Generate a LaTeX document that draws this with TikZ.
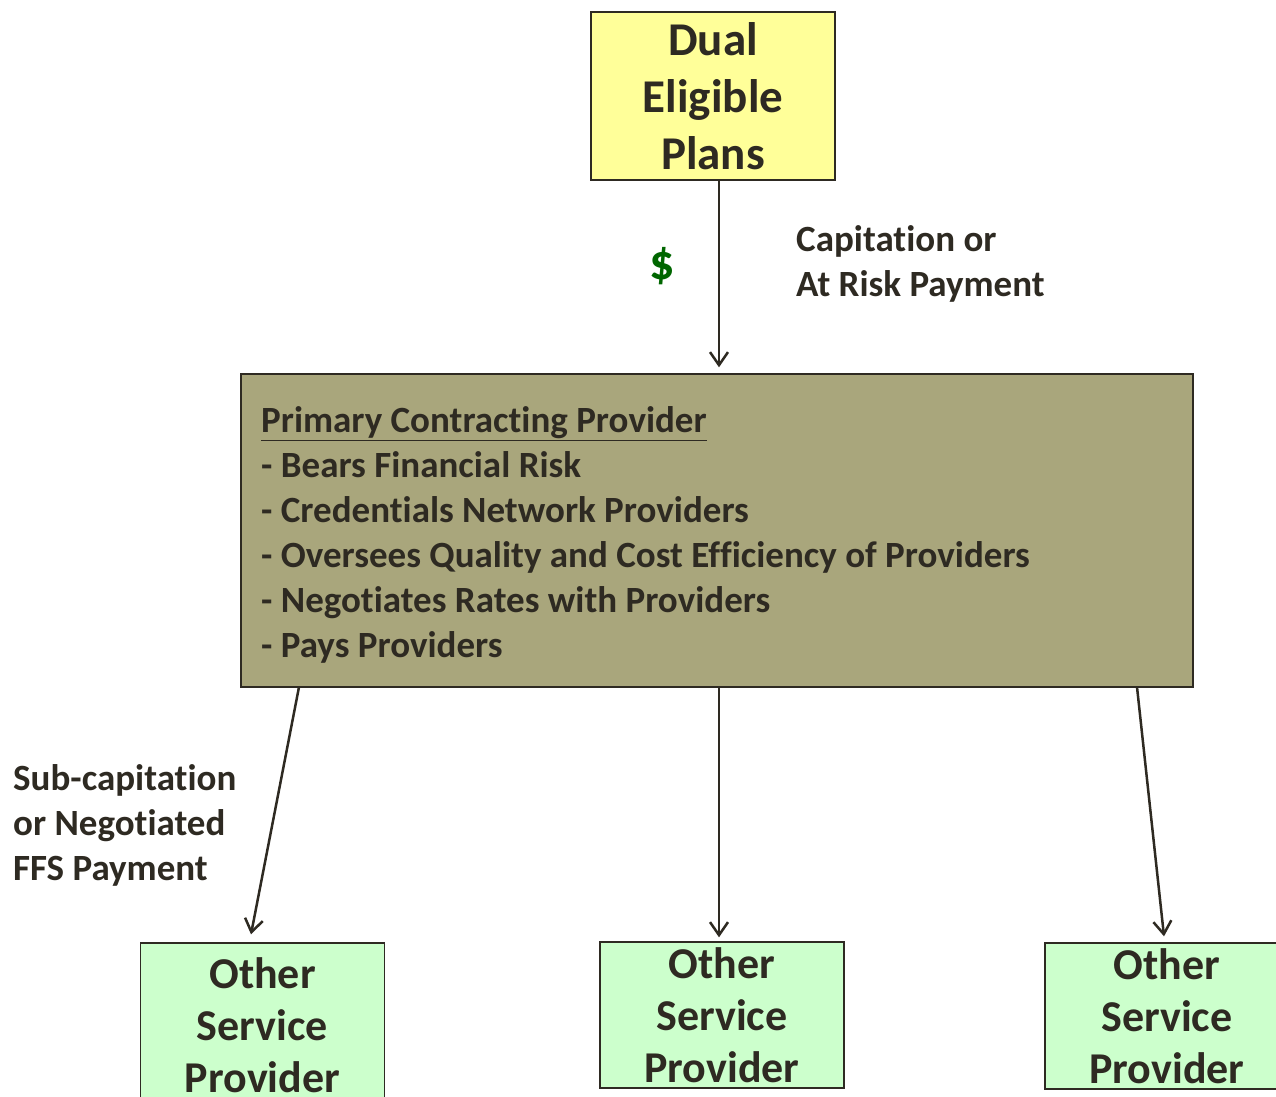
\documentclass[tikz,border=0pt]{standalone}
\usepackage{fontspec}
\setmainfont{Carlito}[Ligatures=NoCommon]
\usetikzlibrary{arrows.meta}
\definecolor{ink}{HTML}{2E2A22}
\definecolor{plany}{HTML}{FFFF99}
\definecolor{primc}{HTML}{A9A67C}
\definecolor{provg}{HTML}{CCFFCC}
\definecolor{dollar}{HTML}{006600}
\tikzset{
  x=1pt,y=1pt,
  boxbase/.style={draw=ink, line width=1.4pt, rectangle, inner sep=0pt, text=ink, font=\bfseries, align=center},
  planbox/.style={boxbase, fill=plany, minimum width=244pt, minimum height=168pt, font=\fontsize{47}{57}\selectfont\bfseries},
  primbox/.style={boxbase, fill=primc, minimum width=952pt, minimum height=313pt},
  provbox/.style={boxbase, fill=provg, minimum width=244pt, minimum height=146pt, font=\fontsize{44}{52}\selectfont\bfseries},
  lbl/.style={text=ink, align=left, inner sep=0pt, font=\fontsize{37}{45}\selectfont\bfseries},
  arr/.style={draw=ink, line width=2.5pt, -{Straight Barb[length=13pt,width=18pt,line width=2.5pt]}}
}
\begin{document}
\begin{tikzpicture}
\useasboundingbox (0,0) rectangle (1276,-1096);
\clip (0,0) rectangle (1276,-1096);
\node[planbox] (plans) at (713,-96) {Dual\\Eligible\\Plans};
\node[primbox] (prim) at (717,-530.5) {};
\node[lbl, anchor=north west] (primtext) at (261,-406) {\underline{Primary Contracting Provider}\\- Bears Financial Risk\\- Credentials Network Providers\\- Oversees Quality and Cost Efficiency of Providers\\- Negotiates Rates with Providers\\- Pays Providers};
\node[provbox, minimum height=164pt] (o1) at (262.5,-1025) {Other\\Service\\Provider};
\node[provbox] (o2) at (722,-1015) {Other\\Service\\Provider};
\node[provbox] (o3) at (1167,-1016) {Other\\Service\\Provider};
\node[lbl, anchor=north west] (cap) at (796,-225) {Capitation or\\At Risk Payment};
\node[lbl, anchor=north west] (sub) at (13,-764) {Sub-capitation\\or Negotiated\\FFS Payment};
\node[text=dollar, inner sep=0pt, font=\fontsize{50}{60}\selectfont\bfseries] (dol) at (662,-266) {\$};
\coordinate (s1) at (299,-687);
\coordinate (s3) at (1137,-687);
\draw[arr] (plans.south -| 719,0) -- ([yshift=6pt]prim.north -| 719,0);
\draw[arr] (s1) -- ([xshift=-11.5pt,yshift=8pt]o1.north);
\draw[arr] (prim.south -| 719,0) -- ([xshift=-3pt,yshift=4pt]o2.north);
\draw[arr] (s3) -- ([xshift=-3pt,yshift=6pt]o3.north);
\end{tikzpicture}
\end{document}
